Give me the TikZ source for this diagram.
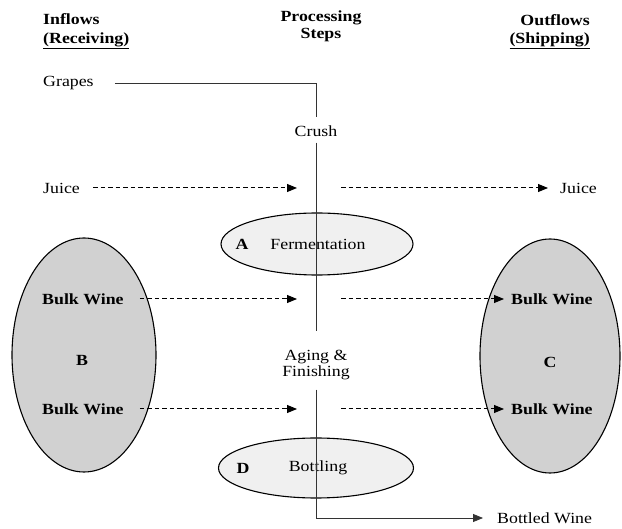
\documentclass[tikz,border=0pt]{standalone}
\usepackage{fontspec}
\setmainfont{Liberation Serif}[FakeStretch=1.15]
\usetikzlibrary{arrows.meta,shapes.geometric}
\newcommand\fs{\fontsize{15.5}{14}\selectfont}
\begin{document}
\begin{tikzpicture}[x=1pt,y=-1pt,
  every node/.style={font=\fs, inner sep=0pt},
  hdr/.style={font=\fs\bfseries},
  bigell/.style={ellipse, draw=black, line width=1.1pt, fill=black!18},
  procell/.style={ellipse, draw=black, line width=1.1pt, fill=black!6},
  flow/.style={line width=0.8pt, draw=black!80},
  dasharrow/.style={line width=1pt, dash pattern=on 4.5pt off 3pt, -{Triangle[length=10pt,width=8pt]}},
  solidarrow/.style={line width=0.8pt, draw=black!80, -{Triangle[length=10pt,width=8pt]}}
]
\useasboundingbox (0,0) rectangle (622,529);

% headers
\node[hdr, anchor=base west] (in1) at (43,25) {Inflows};
\node[hdr, anchor=base west] (in2) at (43,43.5) {\underline{(Receiving)}};
\node[hdr, anchor=base] (pr1) at (321,22) {Processing};
\node[hdr, anchor=base] (pr2) at (321,38.5) {Steps};
\node[hdr, anchor=base east] (out1) at (590,26) {Outflows};
\node[hdr, anchor=base east] (out2) at (590,43.5) {\underline{(Shipping)}};

% ellipses
\node[bigell, minimum width=144pt, minimum height=234pt] (B) at (84,355) {};
\node[bigell, minimum width=140pt, minimum height=234pt] (C) at (550,356) {};
\node[procell, minimum width=192pt, minimum height=62pt] (A) at (317,244) {};
\node[procell, minimum width=195pt, minimum height=60pt] (D) at (316,468) {};

% labels
\node[font=\fs\bfseries] (Blab) at (82,360) {B};
\node[font=\fs\bfseries] (Clab) at (550,362) {C};
\node[font=\fs\bfseries] (Alab) at (242,244) {A};
\node (ferm) at (318,244) {Fermentation};
\node[font=\fs\bfseries] (Dlab) at (243,468) {D};
\node (bott) at (318,468) {Bottling};

% text nodes
\node[anchor=west] (grapes) at (43,83) {Grapes};
\node (crush) at (316,131) {Crush};
\node[align=center] (aging) at (316,365) {Aging \&\\Finishing};
\node[anchor=west] (juiceL) at (43,188) {Juice};
\node[anchor=west] (juiceR) at (560,188) {Juice};
\node[anchor=west, font=\fs\bfseries] (bw1L) at (42,299) {Bulk Wine};
\node[anchor=west, font=\fs\bfseries] (bw2L) at (42,409) {Bulk Wine};
\node[anchor=west, font=\fs\bfseries] (bw1R) at (511,299) {Bulk Wine};
\node[anchor=west, font=\fs\bfseries] (bw2R) at (511,409) {Bulk Wine};
\node[anchor=west] (bottled) at (497,518) {Bottled Wine};

% free ends at the process line
\coordinate (jin) at (297,188);
\coordinate (jout) at (341,188);
\coordinate (b1in) at (297,299);
\coordinate (b1out) at (341,299);
\coordinate (b2in) at (297,409);
\coordinate (b2out) at (341,409);
\coordinate (bend) at (316,518);

% main process line
\draw[flow] ([xshift=21pt]grapes.east) -| ([yshift=8pt]crush.north);
\draw[flow] ([yshift=-6pt]crush.south) -- ([yshift=19pt]aging.north);
\draw[solidarrow] ([yshift=-10pt]aging.south) -- (bend) -- ([xshift=-14pt]bottled.west);

% dashed flows
\draw[dasharrow] ([xshift=13pt]juiceL.east) -- (jin);
\draw[dasharrow] (jout) -- ([xshift=-12pt]juiceR.west);
\draw[dasharrow] ([xshift=16pt]bw1L.east) -- (b1in);
\draw[dasharrow] (b1out) -- ([xshift=-7pt]bw1R.west);
\draw[dasharrow] ([xshift=16pt]bw2L.east) -- (b2in);
\draw[dasharrow] (b2out) -- ([xshift=-7pt]bw2R.west);
\end{tikzpicture}
\end{document}
